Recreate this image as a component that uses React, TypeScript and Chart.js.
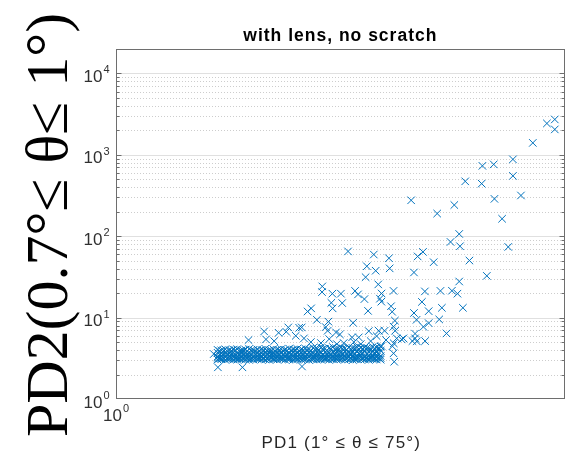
import { useEffect, useRef } from "react";
import { Chart, registerables } from "chart.js";

Chart.register(...registerables);

// Axis limits (both axes logarithmic)
const PD1_LIMITS = [1, 2.825];
const PD2_LIMITS = [1, 20000];
const PD2_DECADES = [1, 10, 100, 1000, 10000];
const PD2_EXPONENTS = ["0", "1", "2", "3", "4"];
const PD1_TICKS = [1];
const PD1_EXPONENTS = ["0"];

const TITLE = "with lens, no scratch";
const X_TITLE = "PD1 (1° ≤ θ ≤ 75°)";
const Y_TITLE = "PD2(0.7°≤ θ≤ 1°)";

// Dense low-level band: PD1 positions with PD2 rows
const BAND_PD1 = [
  1.265, 1.276, 1.288, 1.3, 1.312, 1.324, 1.337, 1.349, 1.361, 1.374, 1.387,
  1.4, 1.413, 1.426, 1.439, 1.452, 1.466, 1.479, 1.493, 1.507, 1.521, 1.535,
  1.549, 1.563, 1.578, 1.592, 1.607, 1.622, 1.637, 1.652, 1.667, 1.683, 1.698,
  1.714, 1.73, 1.746, 1.762, 1.778, 1.795, 1.811, 1.828, 1.845,
];
const BAND_PD2_LOW = [
  3.05, 3.08, 3.03, 3.1, 3.06, 3.04, 3.09, 3.05, 3.02, 3.07, 3.11, 3.04, 3.06,
  3.03, 3.08, 3.05, 3.1, 3.04, 3.07, 3.03, 3.06, 3.09, 3.05, 3.02, 3.08, 3.04,
  3.06, 3.1, 3.03, 3.07, 3.05, 3.09, 3.04, 3.06, 3.02, 3.08, 3.05, 3.07, 3.03,
  3.1, 3.06, 3.04,
];
const BAND_PD2_LOW2 = [
  3.21, 3.17, 3.24, 3.19, 3.22, 3.16, 3.25, 3.2, 3.18, 3.23, 3.17, 3.21, 3.26,
  3.19, 3.16, 3.22, 3.2, 3.24, 3.18, 3.21, 3.17, 3.23, 3.19, 3.25, 3.2, 3.16,
  3.22, 3.18, 3.24, 3.21, 3.17, 3.23, 3.19, 3.26, 3.2, 3.18, 3.22, 3.25, 3.17,
  3.21, 3.24, 3.19,
];
const BAND_PD2_MID = [
  3.32, 3.4, 3.28, 3.36, 3.44, 3.3, 3.38, 3.33, 3.42, 3.29, 3.35, 3.41, 3.31,
  3.37, 3.45, 3.3, 3.34, 3.39, 3.28, 3.43, 3.36, 3.32, 3.4, 3.29, 3.35, 3.44,
  3.31, 3.38, 3.33, 3.42, 3.3, 3.36, 3.41, 3.28, 3.39, 3.34, 3.45, 3.32, 3.37,
  3.43, 3.3, 3.38,
];
const BAND_PD2_UPPER = [
  3.7, 3.62, 3.78, 3.66, 3.74, 3.6, 3.81, 3.68, 3.64, 3.76, 3.71, 3.63, 3.79,
  3.67, 3.73, 3.61, 3.77, 3.69, 3.65, 3.82, 3.72, 3.64, 3.75, 3.7, 3.62, 3.8,
  3.68, 3.74, 3.66, 3.78, 3.63, 3.71, 3.85, 3.69, 3.76, 3.88, 3.72, 3.9, 3.79,
  3.86, 3.74, 3.92,
];
const BAND_PD2_TOP = [
  4.02, 3.95, 4.08, 3.98, 4.05, 4.1, 3.96, 4.04, 4.12, 3.99, 4.07, 4.01, 4.14,
  3.97, 4.09, 4.03, 4.11, 4.0, 4.16, 4.06, 4.13, 4.02, 4.18, 4.08, 4.25, 4.12,
  4.3, 4.15, 4.22, 4.35, 4.1, 4.28, 4.18, 4.33, 4.2, 4.38, 4.24, 4.31, 4.15,
  4.36, 4.27, 4.4,
];
// Second, interleaved set of band measurements
const BAND2_PD1 = [
  1.271, 1.282, 1.294, 1.306, 1.318, 1.331, 1.343, 1.355, 1.368, 1.38, 1.393,
  1.406, 1.419, 1.432, 1.445, 1.459, 1.472, 1.486, 1.5, 1.514, 1.528, 1.542,
  1.556, 1.57, 1.585, 1.6, 1.614, 1.629, 1.644, 1.66, 1.675, 1.69, 1.706,
  1.722, 1.738, 1.754, 1.77, 1.787, 1.803, 1.82, 1.837,
];
const BAND2_PD2_LOW = [
  3.14, 3.18, 3.12, 3.2, 3.15, 3.13, 3.19, 3.16, 3.12, 3.21, 3.14, 3.17, 3.13,
  3.2, 3.15, 3.18, 3.12, 3.16, 3.21, 3.14, 3.19, 3.13, 3.17, 3.15, 3.2, 3.12,
  3.18, 3.14, 3.16, 3.21, 3.13, 3.19, 3.15, 3.17, 3.12, 3.2, 3.14, 3.18, 3.16,
  3.13, 3.19,
];
const BAND2_PD2_MID = [
  3.52, 3.48, 3.57, 3.5, 3.55, 3.46, 3.53, 3.59, 3.49, 3.56, 3.51, 3.47, 3.58,
  3.54, 3.5, 3.55, 3.48, 3.6, 3.52, 3.57, 3.49, 3.54, 3.51, 3.58, 3.47, 3.55,
  3.53, 3.6, 3.5, 3.56, 3.62, 3.52, 3.58, 3.65, 3.54, 3.6, 3.68, 3.57, 3.63,
  3.7, 3.6,
];
const BAND2_PD2_UPPER = [
  3.88, 3.95, 3.84, 3.92, 3.98, 3.86, 3.94, 3.9, 3.99, 3.85, 3.93, 3.97, 3.87,
  3.96, 3.91, 4.0, 3.89, 3.95, 3.92, 4.02, 3.9, 3.98, 4.05, 3.94, 4.08, 4.0,
  4.12, 3.96, 4.15, 4.06, 4.1, 4.18, 4.03, 4.14, 4.2, 4.09, 4.16, 4.22, 4.12,
  4.19, 4.25,
];

// Scattered measurements above and around the band
const SPREAD_PD1 = [
  2.711, 2.761, 2.761, 2.624, 2.335, 2.397, 2.506, 2.244, 2.331, 2.506, 1.98,
  2.188, 2.401, 2.553, 2.103, 2.444, 2.213, 2.169, 2.217, 2.479, 1.711, 1.816,
  1.881, 2.01, 2.035, 2.086, 2.266, 1.787, 1.824, 1.884, 1.993, 2.359, 1.782,
  2.213, 1.835, 1.612, 1.611, 1.65, 1.683, 1.739, 1.751, 1.901, 1.849, 2.044,
  2.119, 2.176, 2.204, 1.646, 1.688, 1.777, 1.842, 1.848, 2.03, 2.126, 2.232,
  1.651, 1.571, 1.792, 1.89, 1.895, 1.558, 1.993, 2.062, 1.592, 1.635, 1.731,
  1.907, 2.005, 2.113, 2.062, 2.037, 1.901, 1.537, 1.625, 1.632, 1.664, 1.679,
  1.795, 1.837, 1.862, 1.908, 2.149, 1.998, 1.409, 1.457, 1.49, 1.528, 1.483,
  1.359, 1.415, 1.516, 1.545, 1.638, 1.727, 1.754, 1.828, 1.868, 1.902, 1.945,
  1.915, 1.998, 2.045, 1.986, 1.937, 2.006, 1.901, 1.904, 1.266, 1.34, 1.538,
  1.254, 1.734, 1.762, 1.803, 1.694, 1.667, 1.849, 1.442, 1.57, 1.607, 1.896,
];
const SPREAD_PD2 = [
  2435, 2726, 2055, 1404, 733, 764, 881, 473, 443, 552, 276.5, 242, 288, 317,
  190, 164, 106.7, 85.1, 75.4, 73.9, 65.1, 59.6, 53.7, 56.5, 64.2, 48.0, 50.3,
  42.8, 37.7, 40.3, 35.9, 32.6, 31.4, 27.8, 25.6, 24.2, 20.6, 19.7, 19.7, 21.3,
  19.3, 21.3, 19.8, 21.0, 21.3, 21.4, 19.7, 15.2, 15.1, 16.9, 17.1, 15.7, 15.6,
  13.2, 13.2, 13.0, 13.0, 12.1, 13.8, 11.8, 11.9, 11.4, 12.0, 9.4, 8.93, 8.63,
  9.19, 9.4, 9.5, 8.56, 7.71, 7.75, 7.58, 7.65, 6.89, 6.58, 6.22, 6.83, 6.89,
  6.89, 6.89, 6.4, 6.36, 6.77, 6.51, 7.58, 7.5, 6.7, 5.3, 5.4, 5.98, 5.56,
  5.45, 5.72, 5.72, 5.93, 5.3, 4.83, 5.56, 5.56, 5.56, 5.15, 5.15, 5.4, 5.11,
  3.64, 2.87, 2.45, 2.45, 2.51, 3.57, 5.01, 4.73, 5.15, 4.87, 4.73, 4.47, 5.15,
  5.01, 4.87, 4.45,
];

const MARKER_COLOR = "#0072BD";
const SANS = "'Liberation Sans', Arial, Helvetica, sans-serif";
const SERIF = "'Liberation Serif', 'Times New Roman', serif";

function drawPower(
  ctx: CanvasRenderingContext2D,
  base: string,
  exp: string,
  x: number,
  y: number,
  align: "right" | "center"
) {
  ctx.font = `17px ${SANS}`;
  const bw = ctx.measureText(base).width;
  ctx.font = `11px ${SANS}`;
  const ew = ctx.measureText(exp).width;
  const total = bw + 1 + ew;
  const left = align === "right" ? x - total : x - total / 2;
  ctx.textAlign = "left";
  ctx.textBaseline = "alphabetic";
  ctx.font = `17px ${SANS}`;
  ctx.fillText(base, left, y);
  ctx.font = `11px ${SANS}`;
  ctx.fillText(exp, left + bw + 1, y - 8.5);
}

const axesDecor = {
  id: "axesDecor",
  beforeDatasetsDraw(chart: any) {
    const { ctx, chartArea: a } = chart;
    const ys = chart.scales.y;
    ctx.save();
    ctx.lineWidth = 1;
    // dotted minor grid
    ctx.strokeStyle = "#cdcdcd";
    ctx.setLineDash([1, 2]);
    for (const d of PD2_DECADES) {
      for (let m = 2; m <= 9; m++) {
        const v = d * m;
        if (v >= PD2_LIMITS[1]) continue;
        const py = Math.round(ys.getPixelForValue(v)) + 0.5;
        ctx.beginPath();
        ctx.moveTo(a.left, py);
        ctx.lineTo(a.right, py);
        ctx.stroke();
      }
    }
    // solid major grid
    ctx.setLineDash([]);
    ctx.strokeStyle = "#e0e0e0";
    for (const d of PD2_DECADES) {
      if (d <= PD2_LIMITS[0]) continue;
      const py = Math.round(ys.getPixelForValue(d)) + 0.5;
      ctx.beginPath();
      ctx.moveTo(a.left, py);
      ctx.lineTo(a.right, py);
      ctx.stroke();
    }
    ctx.restore();
  },
  afterDraw(chart: any) {
    const { ctx, chartArea: a } = chart;
    const xs = chart.scales.x;
    const ys = chart.scales.y;
    ctx.save();
    const L = Math.round(a.left) + 0.5;
    const R = Math.round(a.right) - 0.5;
    const T = Math.round(a.top) + 0.5;
    const B = Math.round(a.bottom) - 0.5;

    // box
    ctx.strokeStyle = "#6e6e6e";
    ctx.lineWidth = 1;
    ctx.strokeRect(L, T, R - L, B - T);

    // y ticks on both sides
    ctx.beginPath();
    for (const d of PD2_DECADES) {
      for (let m = 1; m <= 9; m++) {
        const v = d * m;
        if (v <= PD2_LIMITS[0] || v >= PD2_LIMITS[1]) continue;
        const py = Math.round(ys.getPixelForValue(v)) + 0.5;
        const len = m === 1 ? 5 : 3;
        ctx.moveTo(L, py);
        ctx.lineTo(L + len, py);
        ctx.moveTo(R, py);
        ctx.lineTo(R - len, py);
      }
    }
    ctx.stroke();

    // tick labels
    ctx.fillStyle = "#303030";
    PD2_DECADES.forEach((d, i) => {
      const py = ys.getPixelForValue(d);
      drawPower(ctx, "10", PD2_EXPONENTS[i], L - 7, py + 8.5, "right");
    });
    PD1_TICKS.forEach((v, i) => {
      const px = xs.getPixelForValue(v);
      drawPower(ctx, "10", PD1_EXPONENTS[i], px, B + 22, "center");
    });

    const cx = (a.left + a.right) / 2;

    // title
    ctx.fillStyle = "#000";
    ctx.font = `bold 17.5px ${SANS}`;
    ctx.textAlign = "center";
    ctx.textBaseline = "alphabetic";
    (ctx as any).letterSpacing = "1px";
    ctx.fillText(TITLE, cx, 41);
    (ctx as any).letterSpacing = "0px";

    // x axis title
    ctx.fillStyle = "#262626";
    ctx.font = `17px ${SANS}`;
    (ctx as any).letterSpacing = "1.2px";
    ctx.fillText(X_TITLE, cx + 1, 447.5);
    (ctx as any).letterSpacing = "0px";

    // y axis title, large serif, reading upward
    ctx.fillStyle = "#000";
    ctx.font = `60px ${SERIF}`;
    ctx.translate(67, 225);
    ctx.rotate(-Math.PI / 2);
    ctx.textAlign = "center";
    ctx.fillText(Y_TITLE, 0, 0);
    ctx.restore();
  },
};

export default function App() {
  const canvasRef = useRef<HTMLCanvasElement | null>(null);

  useEffect(() => {
    const canvas = canvasRef.current;
    if (!canvas) return;

    const band = [
      ...[BAND_PD2_LOW, BAND_PD2_LOW2, BAND_PD2_MID, BAND_PD2_UPPER, BAND_PD2_TOP].flatMap(
        (row) => BAND_PD1.map((x, i) => ({ x, y: row[i] }))
      ),
      ...[BAND2_PD2_LOW, BAND2_PD2_MID, BAND2_PD2_UPPER].flatMap((row) =>
        BAND2_PD1.map((x, i) => ({ x, y: row[i] }))
      ),
    ];
    const spread = SPREAD_PD1.map((x, i) => ({ x, y: SPREAD_PD2[i] }));

    const markerStyle = {
      pointStyle: "crossRot" as const,
      pointRadius: 5.3,
      pointHoverRadius: 5.3,
      pointBorderWidth: 1,
      pointHoverBorderWidth: 1,
      borderColor: MARKER_COLOR,
      backgroundColor: MARKER_COLOR,
      pointBorderColor: MARKER_COLOR,
      pointBackgroundColor: MARKER_COLOR,
      pointHoverBorderColor: MARKER_COLOR,
      pointHoverBackgroundColor: MARKER_COLOR,
    };

    const chart = new Chart(canvas, {
      type: "scatter",
      data: {
        datasets: [
          { label: "band", data: band, ...markerStyle },
          { label: "spread", data: spread, ...markerStyle },
        ],
      },
      options: {
        responsive: false,
        animation: false,
        events: [],
        devicePixelRatio: 1,
        layout: { padding: { left: 116, right: 4, top: 49, bottom: 60 } },
        plugins: {
          legend: { display: false },
          tooltip: { enabled: false },
          title: { display: false },
        },
        scales: {
          x: {
            type: "logarithmic",
            min: PD1_LIMITS[0],
            max: PD1_LIMITS[1],
            display: false,
          },
          y: {
            type: "logarithmic",
            min: PD2_LIMITS[0],
            max: PD2_LIMITS[1],
            display: false,
          },
        },
      },
      plugins: [axesDecor],
    });

    return () => chart.destroy();
  }, []);

  return (
    <div
      style={{
        position: "absolute",
        left: 0,
        top: 0,
        width: 571,
        height: 459,
        background: "#fff",
      }}
    >
      <canvas ref={canvasRef} width={571} height={459} />
    </div>
  );
}
